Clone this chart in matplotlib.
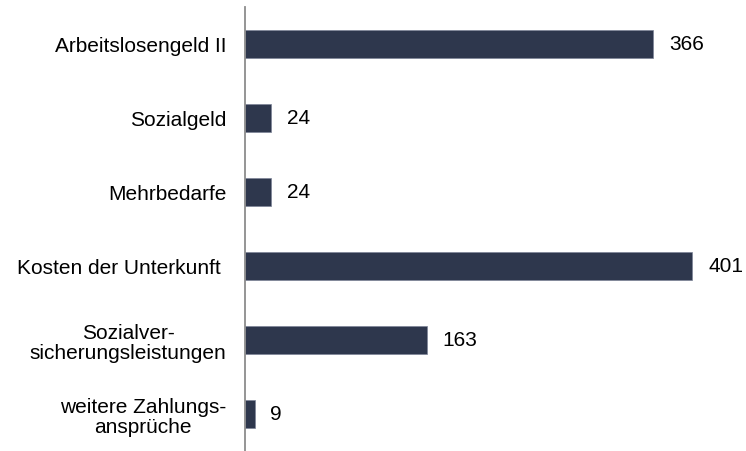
import matplotlib
matplotlib.use("Agg")
import matplotlib.pyplot as plt

categories = [
    "Arbeitslosengeld II",
    "Sozialgeld",
    "Mehrbedarfe",
    "Kosten der Unterkunft ",
    "Sozialver-\nsicherungsleistungen",
    "weitere Zahlungs-\nansprüche",
]
values = [366, 24, 24, 401, 163, 9]

plt.rcParams["font.family"] = ["Liberation Sans", "DejaVu Sans"]

fig = plt.figure(figsize=(7.46, 4.52), dpi=100)
ax = fig.add_axes([244.5 / 746, 0.0, 1 - 244.5 / 746, 1 - 8 / 452])

bar_color = "#2e374d"
pos = list(range(len(categories)))
ax.barh(pos, values, height=0.39, color=bar_color, edgecolor="#7d8497", linewidth=0.5)

for p, v in zip(pos, values):
    ax.text(v + 14, p, f"{v}", va="center", ha="left", fontsize=15, color="black")

ax.set_xlim(0, 449)
ax.set_ylim(len(categories) - 0.5, -0.5)
ax.set_yticks(pos)
ax.set_yticklabels(categories, fontsize=15, multialignment="center", linespacing=1.05)
ax.tick_params(axis="y", length=0, pad=13)
ax.set_xticks([])

for side in ["top", "right", "bottom"]:
    ax.spines[side].set_visible(False)
ax.spines["left"].set_color("#8c8c8c")
ax.spines["left"].set_linewidth(1.3)

fig.savefig("out.png", dpi=100)
